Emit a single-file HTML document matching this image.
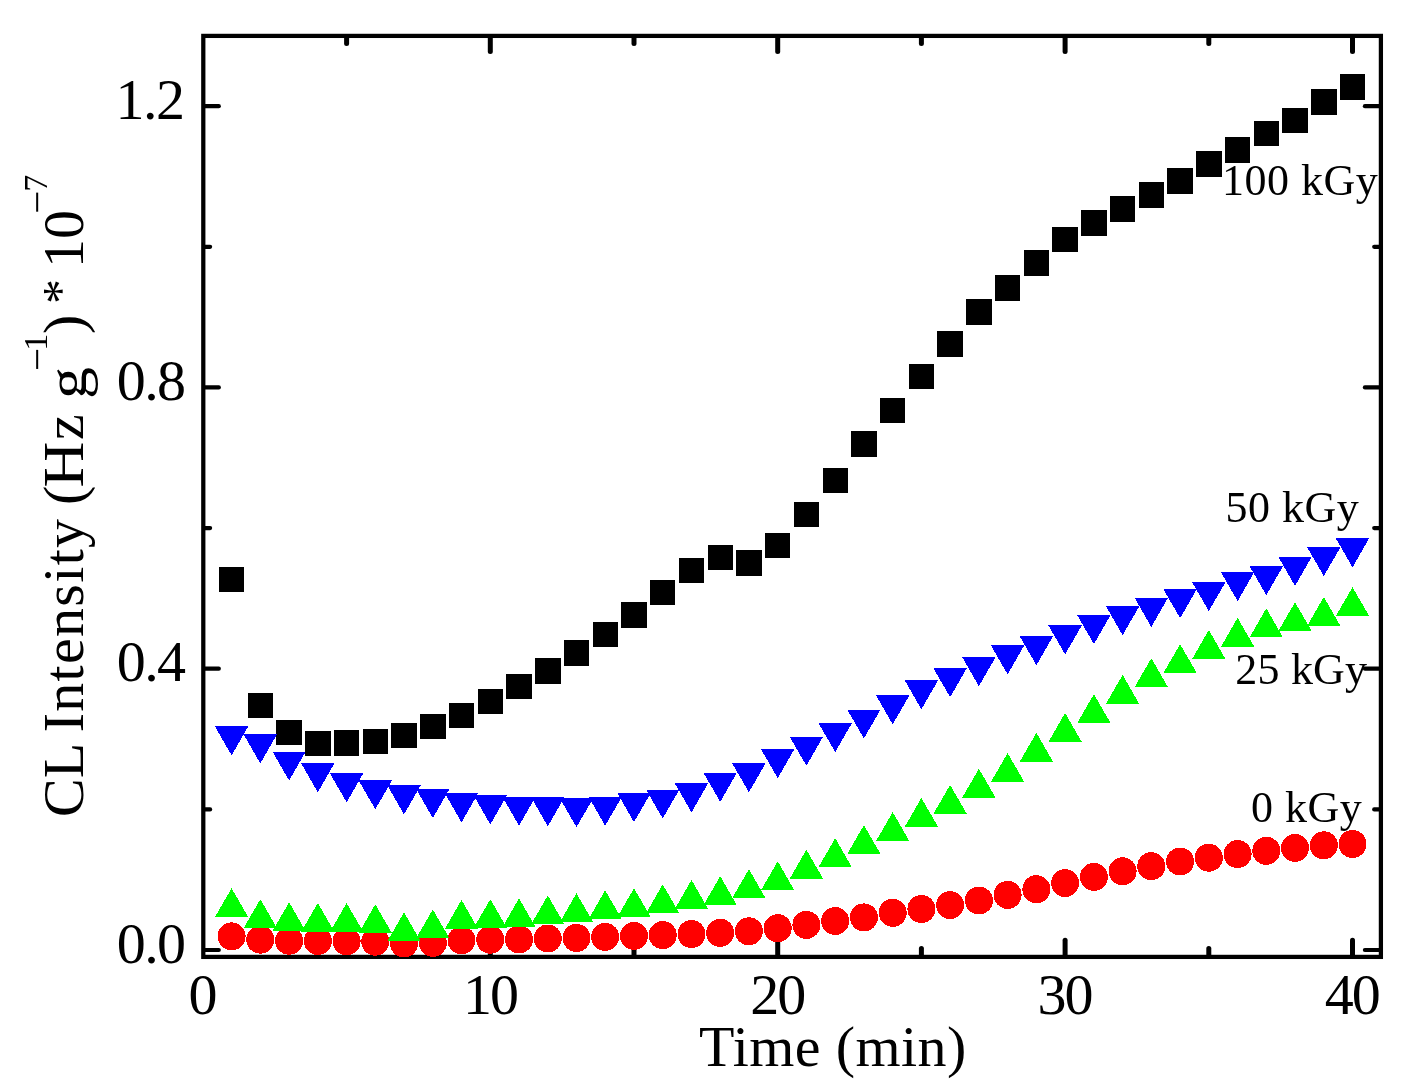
<!DOCTYPE html>
<html lang="en"><head><meta charset="utf-8"><title>CL Intensity vs Time</title>
<style>
html,body{margin:0;padding:0;background:#fff;}
body{width:1407px;height:1092px;overflow:hidden;}
svg{display:block;will-change:transform;}
text{font-family:"Liberation Serif","Times New Roman",Times,serif;fill:#000;}
.tk{font-size:58px;}
.lb{font-size:44px;}
.ax{stroke:#000;stroke-width:4.25;fill:none;}
.t1{stroke:#000;stroke-width:5;stroke-linecap:round;}
.t2{stroke:#000;stroke-width:4.2;stroke-linecap:round;}
</style></head><body>
<svg width="1407" height="1092" viewBox="0 0 1407 1092">
<rect width="1407" height="1092" fill="#fff"/>
<rect class="ax" x="203.3" y="35.9" width="1177.6" height="921"/>
<g class="t1">
<line x1="346.6" y1="955.9" x2="346.6" y2="948.4"/>
<line x1="346.6" y1="36.9" x2="346.6" y2="43.4"/>
<line x1="490.3" y1="955.9" x2="490.3" y2="940.3"/>
<line x1="490.3" y1="36.9" x2="490.3" y2="51.5"/>
<line x1="634" y1="955.9" x2="634" y2="948.4"/>
<line x1="634" y1="36.9" x2="634" y2="43.4"/>
<line x1="777.7" y1="955.9" x2="777.7" y2="940.3"/>
<line x1="777.7" y1="36.9" x2="777.7" y2="51.5"/>
<line x1="921.4" y1="955.9" x2="921.4" y2="948.4"/>
<line x1="921.4" y1="36.9" x2="921.4" y2="43.4"/>
<line x1="1065.1" y1="955.9" x2="1065.1" y2="940.3"/>
<line x1="1065.1" y1="36.9" x2="1065.1" y2="51.5"/>
<line x1="1208.8" y1="955.9" x2="1208.8" y2="948.4"/>
<line x1="1208.8" y1="36.9" x2="1208.8" y2="43.4"/>
<line x1="1352.5" y1="955.9" x2="1352.5" y2="940.3"/>
<line x1="1352.5" y1="36.9" x2="1352.5" y2="51.5"/>
</g><g class="t2">
<line x1="204.3" y1="950" x2="218.8" y2="950"/>
<line x1="1379.9" y1="950" x2="1364.9" y2="950"/>
<line x1="204.3" y1="809.4" x2="210.1" y2="809.4"/>
<line x1="1379.9" y1="809.4" x2="1374.2" y2="809.4"/>
<line x1="204.3" y1="668.7" x2="218.8" y2="668.7"/>
<line x1="1379.9" y1="668.7" x2="1364.9" y2="668.7"/>
<line x1="204.3" y1="528.1" x2="210.1" y2="528.1"/>
<line x1="1379.9" y1="528.1" x2="1374.2" y2="528.1"/>
<line x1="204.3" y1="387.4" x2="218.8" y2="387.4"/>
<line x1="1379.9" y1="387.4" x2="1364.9" y2="387.4"/>
<line x1="204.3" y1="246.8" x2="210.1" y2="246.8"/>
<line x1="1379.9" y1="246.8" x2="1374.2" y2="246.8"/>
<line x1="204.3" y1="106.2" x2="218.8" y2="106.2"/>
<line x1="1379.9" y1="106.2" x2="1364.9" y2="106.2"/>
</g>
<g shape-rendering="crispEdges">
<g fill="#000">
<rect x="218.9" y="567" width="25.4" height="25.4"/>
<rect x="247.6" y="692.7" width="25.4" height="25.4"/>
<rect x="276.4" y="719.6" width="25.4" height="25.4"/>
<rect x="305.1" y="730.6" width="25.4" height="25.4"/>
<rect x="333.9" y="730.1" width="25.4" height="25.4"/>
<rect x="362.6" y="728.8" width="25.4" height="25.4"/>
<rect x="391.3" y="722.7" width="25.4" height="25.4"/>
<rect x="420.1" y="713.7" width="25.4" height="25.4"/>
<rect x="448.8" y="702.7" width="25.4" height="25.4"/>
<rect x="477.6" y="688.6" width="25.4" height="25.4"/>
<rect x="506.3" y="673.5" width="25.4" height="25.4"/>
<rect x="535.1" y="658.1" width="25.4" height="25.4"/>
<rect x="563.8" y="640.1" width="25.4" height="25.4"/>
<rect x="592.5" y="621.7" width="25.4" height="25.4"/>
<rect x="621.3" y="602.2" width="25.4" height="25.4"/>
<rect x="650" y="579.6" width="25.4" height="25.4"/>
<rect x="678.8" y="557.6" width="25.4" height="25.4"/>
<rect x="707.5" y="544.7" width="25.4" height="25.4"/>
<rect x="736.2" y="550.1" width="25.4" height="25.4"/>
<rect x="765" y="532.7" width="25.4" height="25.4"/>
<rect x="793.7" y="501.7" width="25.4" height="25.4"/>
<rect x="822.5" y="467.6" width="25.4" height="25.4"/>
<rect x="851.2" y="431.1" width="25.4" height="25.4"/>
<rect x="880" y="397.8" width="25.4" height="25.4"/>
<rect x="908.7" y="363.7" width="25.4" height="25.4"/>
<rect x="937.4" y="331.1" width="25.4" height="25.4"/>
<rect x="966.2" y="299.1" width="25.4" height="25.4"/>
<rect x="994.9" y="275.2" width="25.4" height="25.4"/>
<rect x="1023.7" y="250.1" width="25.4" height="25.4"/>
<rect x="1052.4" y="227" width="25.4" height="25.4"/>
<rect x="1081.2" y="210.1" width="25.4" height="25.4"/>
<rect x="1109.9" y="196.3" width="25.4" height="25.4"/>
<rect x="1138.6" y="182.4" width="25.4" height="25.4"/>
<rect x="1167.4" y="168.1" width="25.4" height="25.4"/>
<rect x="1196.1" y="151.1" width="25.4" height="25.4"/>
<rect x="1224.9" y="137.3" width="25.4" height="25.4"/>
<rect x="1253.6" y="121" width="25.4" height="25.4"/>
<rect x="1282.3" y="107.6" width="25.4" height="25.4"/>
<rect x="1311.1" y="89.2" width="25.4" height="25.4"/>
<rect x="1339.8" y="74.2" width="25.4" height="25.4"/>
</g><g fill="#f00">
<circle cx="231.6" cy="936.4" r="14"/>
<circle cx="260.3" cy="939.7" r="14"/>
<circle cx="289.1" cy="940.7" r="14"/>
<circle cx="317.8" cy="941" r="14"/>
<circle cx="346.6" cy="941.2" r="14"/>
<circle cx="375.3" cy="941.7" r="14"/>
<circle cx="404" cy="943.5" r="14"/>
<circle cx="432.8" cy="942.8" r="14"/>
<circle cx="461.5" cy="940.2" r="14"/>
<circle cx="490.3" cy="939.7" r="14"/>
<circle cx="519" cy="939.4" r="14"/>
<circle cx="547.8" cy="938.5" r="14"/>
<circle cx="576.5" cy="937.9" r="14"/>
<circle cx="605.2" cy="936.9" r="14"/>
<circle cx="634" cy="935.9" r="14"/>
<circle cx="662.7" cy="935.1" r="14"/>
<circle cx="691.5" cy="934.1" r="14"/>
<circle cx="720.2" cy="932.8" r="14"/>
<circle cx="748.9" cy="931.3" r="14"/>
<circle cx="777.7" cy="928.2" r="14"/>
<circle cx="806.4" cy="924.9" r="14"/>
<circle cx="835.2" cy="921" r="14"/>
<circle cx="863.9" cy="917.4" r="14"/>
<circle cx="892.7" cy="912.8" r="14"/>
<circle cx="921.4" cy="909" r="14"/>
<circle cx="950.1" cy="905.1" r="14"/>
<circle cx="978.9" cy="900.5" r="14"/>
<circle cx="1007.6" cy="894.9" r="14"/>
<circle cx="1036.4" cy="889.2" r="14"/>
<circle cx="1065.1" cy="883.1" r="14"/>
<circle cx="1093.9" cy="876.9" r="14"/>
<circle cx="1122.6" cy="871.3" r="14"/>
<circle cx="1151.3" cy="866.2" r="14"/>
<circle cx="1180.1" cy="861.5" r="14"/>
<circle cx="1208.8" cy="857.7" r="14"/>
<circle cx="1237.6" cy="854.1" r="14"/>
<circle cx="1266.3" cy="850.8" r="14"/>
<circle cx="1295" cy="847.9" r="14"/>
<circle cx="1323.8" cy="845.3" r="14"/>
<circle cx="1352.5" cy="844" r="14"/>
</g><g fill="#0f0">
<polygon points="231.6,888.2 248.3,917.2 214.9,917.2"/>
<polygon points="260.3,899.2 277,928.2 243.6,928.2"/>
<polygon points="289.1,902.3 305.8,931.3 272.4,931.3"/>
<polygon points="317.8,903 334.5,932 301.1,932"/>
<polygon points="346.6,903 363.3,932 329.9,932"/>
<polygon points="375.3,904.3 392,933.3 358.6,933.3"/>
<polygon points="404,912.3 420.7,941.3 387.3,941.3"/>
<polygon points="432.8,909.4 449.5,938.4 416.1,938.4"/>
<polygon points="461.5,900 478.2,929 444.8,929"/>
<polygon points="490.3,899.2 507,928.2 473.6,928.2"/>
<polygon points="519,898.4 535.7,927.4 502.3,927.4"/>
<polygon points="547.8,895.4 564.5,924.4 531.1,924.4"/>
<polygon points="576.5,893.3 593.2,922.3 559.8,922.3"/>
<polygon points="605.2,890.3 621.9,919.3 588.5,919.3"/>
<polygon points="634,888.2 650.7,917.2 617.3,917.2"/>
<polygon points="662.7,884.4 679.4,913.4 646,913.4"/>
<polygon points="691.5,880 708.2,909 674.8,909"/>
<polygon points="720.2,876.2 736.9,905.2 703.5,905.2"/>
<polygon points="748.9,869.2 765.6,898.2 732.2,898.2"/>
<polygon points="777.7,861.3 794.4,890.3 761,890.3"/>
<polygon points="806.4,849.7 823.1,878.7 789.7,878.7"/>
<polygon points="835.2,838.2 851.9,867.2 818.5,867.2"/>
<polygon points="863.9,825.1 880.6,854.1 847.2,854.1"/>
<polygon points="892.7,812.1 909.4,841.1 876,841.1"/>
<polygon points="921.4,797.9 938.1,826.9 904.7,826.9"/>
<polygon points="950.1,784.9 966.8,813.9 933.4,813.9"/>
<polygon points="978.9,768.7 995.6,797.7 962.2,797.7"/>
<polygon points="1007.6,753 1024.3,782 990.9,782"/>
<polygon points="1036.4,732.8 1053.1,761.8 1019.7,761.8"/>
<polygon points="1065.1,713 1081.8,742 1048.4,742"/>
<polygon points="1093.9,694.1 1110.6,723.1 1077.2,723.1"/>
<polygon points="1122.6,674.9 1139.3,703.9 1105.9,703.9"/>
<polygon points="1151.3,658.2 1168,687.2 1134.6,687.2"/>
<polygon points="1180.1,644.1 1196.8,673.1 1163.4,673.1"/>
<polygon points="1208.8,630 1225.5,659 1192.1,659"/>
<polygon points="1237.6,617.8 1254.3,646.8 1220.9,646.8"/>
<polygon points="1266.3,608.4 1283,637.4 1249.6,637.4"/>
<polygon points="1295,602.2 1311.7,631.2 1278.3,631.2"/>
<polygon points="1323.8,597 1340.5,626 1307.1,626"/>
<polygon points="1352.5,587.1 1369.2,616.1 1335.8,616.1"/>
</g><g fill="#00f">
<polygon points="214.9,726.4 248.3,726.4 231.6,755.4"/>
<polygon points="243.6,734.4 277,734.4 260.3,763.4"/>
<polygon points="272.4,751.5 305.8,751.5 289.1,780.5"/>
<polygon points="301.1,763.3 334.5,763.3 317.8,792.3"/>
<polygon points="329.9,773.3 363.3,773.3 346.6,802.3"/>
<polygon points="358.6,780.3 392,780.3 375.3,809.3"/>
<polygon points="387.3,785.4 420.7,785.4 404,814.4"/>
<polygon points="416.1,789 449.5,789 432.8,818"/>
<polygon points="444.8,793.3 478.2,793.3 461.5,822.3"/>
<polygon points="473.6,795.4 507,795.4 490.3,824.4"/>
<polygon points="502.3,796.7 535.7,796.7 519,825.7"/>
<polygon points="531.1,797.3 564.5,797.3 547.8,826.3"/>
<polygon points="559.8,798.2 593.2,798.2 576.5,827.2"/>
<polygon points="588.5,796.7 621.9,796.7 605.2,825.7"/>
<polygon points="617.3,793.1 650.7,793.1 634,822.1"/>
<polygon points="646,789.5 679.4,789.5 662.7,818.5"/>
<polygon points="674.8,783.3 708.2,783.3 691.5,812.3"/>
<polygon points="703.5,772.8 736.9,772.8 720.2,801.8"/>
<polygon points="732.2,763.3 765.6,763.3 748.9,792.3"/>
<polygon points="761,749.2 794.4,749.2 777.7,778.2"/>
<polygon points="789.7,736.7 823.1,736.7 806.4,765.7"/>
<polygon points="818.5,723.1 851.9,723.1 835.2,752.1"/>
<polygon points="847.2,709.5 880.6,709.5 863.9,738.5"/>
<polygon points="876,695.4 909.4,695.4 892.7,724.4"/>
<polygon points="904.7,680.3 938.1,680.3 921.4,709.3"/>
<polygon points="933.4,668.2 966.8,668.2 950.1,697.2"/>
<polygon points="962.2,657.2 995.6,657.2 978.9,686.2"/>
<polygon points="990.9,645.4 1024.3,645.4 1007.6,674.4"/>
<polygon points="1019.7,636.2 1053.1,636.2 1036.4,665.2"/>
<polygon points="1048.4,625.4 1081.8,625.4 1065.1,654.4"/>
<polygon points="1077.2,615.1 1110.6,615.1 1093.9,644.1"/>
<polygon points="1105.9,606.2 1139.3,606.2 1122.6,635.2"/>
<polygon points="1134.6,597.9 1168,597.9 1151.3,626.9"/>
<polygon points="1163.4,589.2 1196.8,589.2 1180.1,618.2"/>
<polygon points="1192.1,582.1 1225.5,582.1 1208.8,611.1"/>
<polygon points="1220.9,572.1 1254.3,572.1 1237.6,601.1"/>
<polygon points="1249.6,566.2 1283,566.2 1266.3,595.2"/>
<polygon points="1278.3,556.9 1311.7,556.9 1295,585.9"/>
<polygon points="1307.1,547.1 1340.5,547.1 1323.8,576.1"/>
<polygon points="1335.8,538.3 1369.2,538.3 1352.5,567.3"/>
</g></g>
<g class="tk" text-anchor="middle" letter-spacing="-2">
<text x="202.1" y="1013.9">0</text>
<text x="490.1" y="1013.9">10</text>
<text x="777.3" y="1013.9">20</text>
<text x="1064.5" y="1013.9">30</text>
<text x="1351.8" y="1013.9">40</text>
</g><g class="tk" letter-spacing="-1.6">
<text x="116.8" y="962.5">0.0</text>
<text x="116.8" y="681.2">0.4</text>
<text x="116.8" y="399.9">0.8</text>
<text x="115.6" y="118.7">1.2</text>
</g>
<g class="lb" letter-spacing="0.5">
<text x="1222" y="194.8">100 kGy</text>
<text x="1225.4" y="522.2">50 kGy</text>
<text x="1235.3" y="684.2" letter-spacing="0.2">25 kGy</text>
<text x="1251.1" y="822.2">0 kGy</text>
</g>
<text class="tk" x="699" y="1066.4" letter-spacing="0.4">Time (min)</text>
<g transform="translate(83.3 817) rotate(-90)">
<text x="0" y="0" font-size="58">CL</text>
<text x="84.7" y="0" font-size="58" letter-spacing="1.3">Intensity</text>
<text x="312" y="0" font-size="58">(</text>
<text x="329.6" y="0" font-size="58" textLength="46" lengthAdjust="spacingAndGlyphs">H</text>
<text x="377" y="0" font-size="58">z</text>
<text x="418" y="2.5" font-size="58" textLength="32" lengthAdjust="spacingAndGlyphs">g</text>
<text x="445.9" y="-32.5" font-size="41">−</text>
<text x="466.2" y="-36.6" font-size="34">1</text>
<text x="483" y="0" font-size="58">)</text>
<text x="513" y="-6" font-size="50">*</text>
<text x="549" y="0" font-size="58">10</text>
<text x="603.2" y="-32.5" font-size="41">−</text>
<text x="625.2" y="-36.6" font-size="34">7</text>
</g>
</svg></body></html>
